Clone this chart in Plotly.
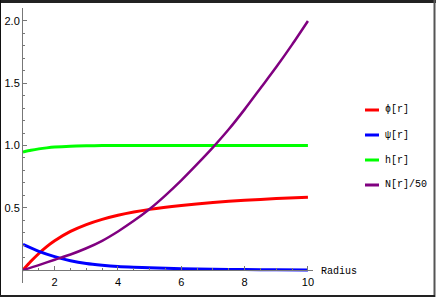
import plotly.graph_objects as go

# ---- data ----
r_phi = [1, 1.25, 1.5, 1.75, 2, 2.5, 3, 3.5, 4, 4.5, 5, 6, 7, 8, 9, 10]
phi = [0, 0.07, 0.133, 0.188, 0.235, 0.31, 0.365, 0.407, 0.44, 0.466, 0.487,
       0.518, 0.542, 0.56, 0.574, 0.585]

r_psi = [1, 1.5, 2, 2.5, 3, 3.5, 4, 4.5, 5, 6, 7, 8, 9, 10]
psi = [0.206, 0.15, 0.108, 0.075, 0.052, 0.038, 0.028, 0.022, 0.018, 0.011,
       0.007, 0.004, 0.002, 0.001]

r_h = [1, 1.25, 1.5, 1.75, 2, 2.5, 3, 3.5, 4, 5, 6, 7, 8, 9, 10]
h = [0.948, 0.962, 0.973, 0.981, 0.987, 0.994, 0.997, 0.999, 1.0, 1.0, 1.0,
     1.0, 1.0, 1.0, 1.0]

r_n = [1, 1.5, 2, 2.5, 3, 3.5, 4, 4.5, 5, 5.5, 6, 6.5, 7, 7.5, 8, 8.5, 9, 9.5, 10]
n50 = [0, 0.04, 0.083, 0.125, 0.175, 0.235, 0.31, 0.395, 0.49, 0.60, 0.72,
       0.85, 0.985, 1.13, 1.29, 1.46, 1.63, 1.81, 2.0]

names = ["ϕ[r]", "ψ[r]", "h[r]", "N[r]/50"]
colors = ["#FF0000", "#0000FF", "#00FF00", "#800080"]
widths = [3, 3, 3, 2.5]
series = [(r_phi, phi), (r_psi, psi), (r_h, h), (r_n, n50)]

x_ticks = [2, 4, 6, 8, 10]
y_ticks = [0.5, 1.0, 1.5, 2.0]
y_ticktext = ["0.5", "1.0", "1.5", "2.0"]
x_label = "Radius"

XR = [1, 10.16]
YR = [-0.104, 2.104]

# ---- layout geometry (pixels) ----
W, H = 436, 300
ML, MR, MT, MB = 23, 123, 8, 17
PW, PH = W - ML - MR, H - MT - MB


def px(x):
    return (x - ML) / PW


def py(y):
    return (H - MB - y) / PH


fig = go.Figure()
for (xs, ys), nm, c, w in zip(series, names, colors, widths):
    fig.add_trace(go.Scatter(x=xs, y=ys, mode="lines", name=nm,
                             line=dict(color=c, width=w, shape="spline", smoothing=0.7),
                             showlegend=False, cliponaxis=False))

axis_col = "#777777"
fig.update_layout(
    width=W, height=H,
    margin=dict(l=ML, r=MR, t=MT, b=MB, pad=0, autoexpand=False),
    paper_bgcolor="white", plot_bgcolor="white",
    font=dict(family="Liberation Sans, Arial, sans-serif", size=11, color="black"),
    xaxis=dict(range=XR, showgrid=False, zeroline=False, showline=True,
               automargin=False,
               linecolor=axis_col, linewidth=1,
               anchor="free", position=(0 - YR[0]) / (YR[1] - YR[0]),
               tickmode="array", tickvals=x_ticks,
               ticks="inside", ticklen=4, tickcolor=axis_col, tickwidth=1,
               ticklabelstandoff=2,
               minor=dict(dtick=0.5, tick0=0, ticks="inside", ticklen=2,
                          tickcolor=axis_col, showgrid=False),
               tickfont=dict(family="Liberation Sans, Arial, sans-serif", size=11)),
    yaxis=dict(range=YR, showgrid=False, zeroline=False, showline=True,
               automargin=False,
               linecolor=axis_col, linewidth=1,
               tickmode="array", tickvals=y_ticks, ticktext=y_ticktext,
               ticks="inside", ticklen=4, tickcolor=axis_col, tickwidth=1,
               minor=dict(dtick=0.1, tick0=0, ticks="inside", ticklen=2,
                          tickcolor=axis_col, showgrid=False),
               tickfont=dict(family="Liberation Sans, Arial, sans-serif", size=11)),
)

# axis label at the end of the x axis
fig.add_annotation(x=px(319), y=py(271), xref="paper", yref="paper",
                   text=x_label, showarrow=False, xanchor="left", yanchor="middle",
                   font=dict(family="Liberation Mono, Courier New, monospace", size=10))

# legend (manual)
leg_y = [110, 135, 160, 185]
for nm, c, ly in zip(names, colors, leg_y):
    fig.add_shape(type="line", xref="paper", yref="paper",
                  x0=px(365), x1=px(379), y0=py(ly), y1=py(ly),
                  line=dict(color=c, width=3))
    fig.add_annotation(x=px(383), y=py(ly), xref="paper", yref="paper",
                       text=nm, showarrow=False, xanchor="left", yanchor="middle",
                       font=dict(family="Liberation Mono, DejaVu Sans Mono, monospace", size=10))

# frame around the picture
fig.add_shape(type="line", xref="paper", yref="paper", x0=px(0), x1=px(436),
              y0=py(1.5), y1=py(1.5), line=dict(color="#222222", width=3))
fig.add_shape(type="line", xref="paper", yref="paper", x0=px(0.5), x1=px(0.5),
              y0=py(0), y1=py(297), line=dict(color="#111111", width=1))
fig.add_shape(type="line", xref="paper", yref="paper", x0=px(434.5), x1=px(434.5),
              y0=py(0), y1=py(297), line=dict(color="#555555", width=2))
fig.add_shape(type="line", xref="paper", yref="paper", x0=px(0), x1=px(435),
              y0=py(296), y1=py(296), line=dict(color="#222222", width=2))

fig.write_html("out.html", config={"displayModeBar": False},
               post_script="document.body.style.margin='0';document.body.style.overflow='hidden';")
